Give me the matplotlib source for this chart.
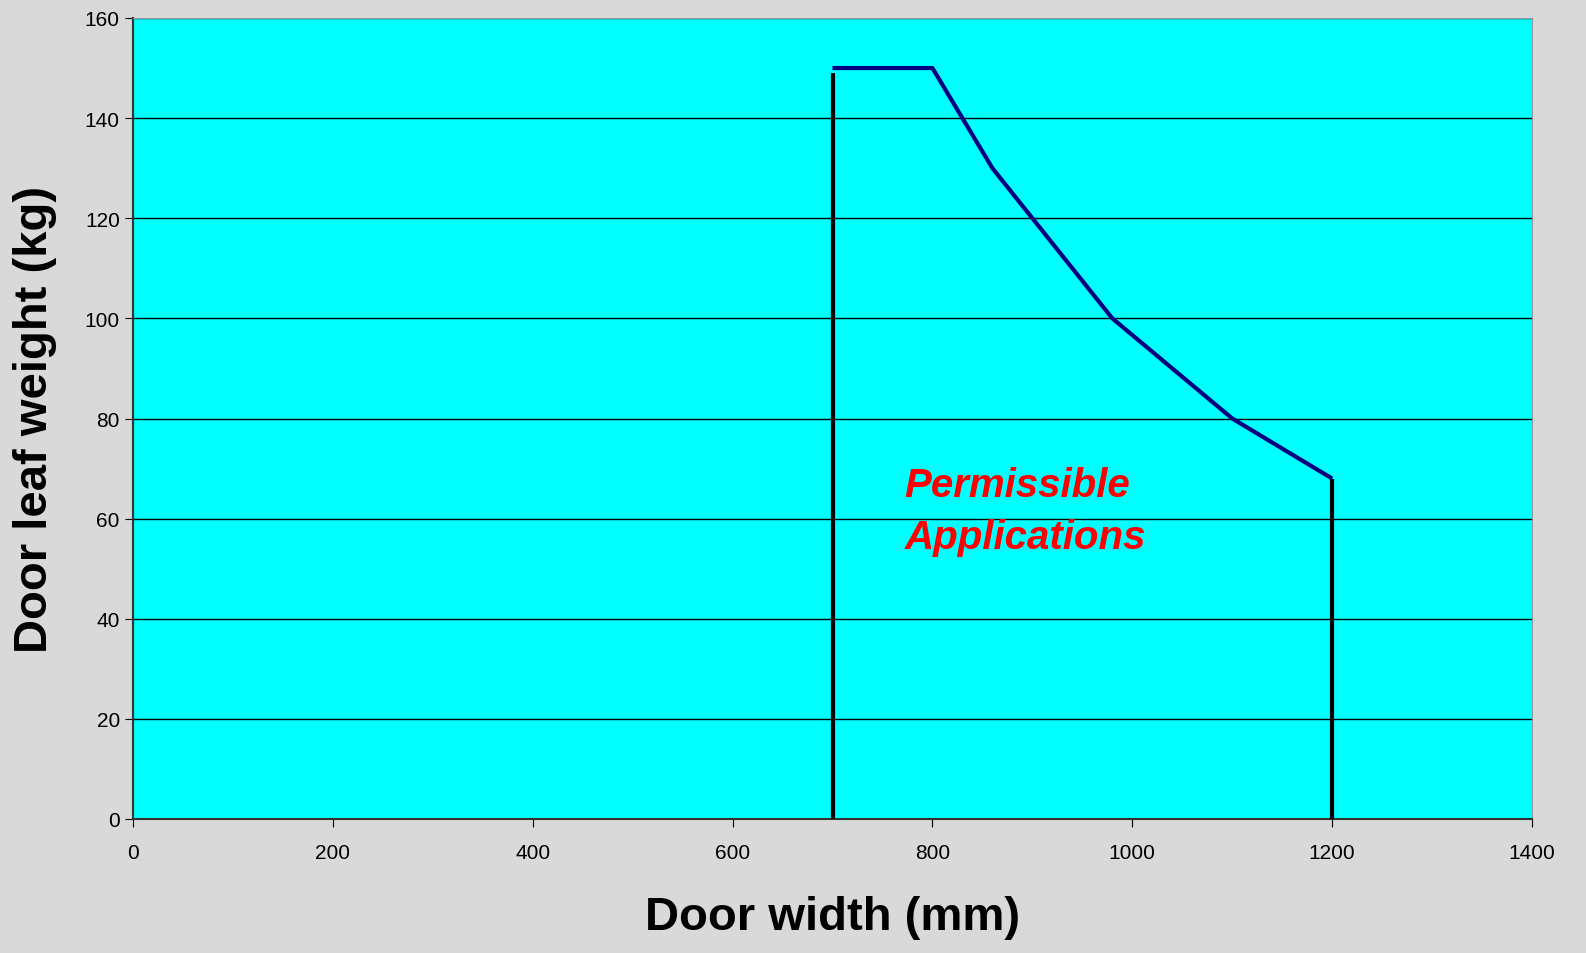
import matplotlib.pyplot as plt

plt.rcParams['font.family'] = ['Liberation Sans', 'DejaVu Sans']

# permissible limit curve
width = [700, 800, 860, 900, 940, 980, 1040, 1100, 1150, 1200]
weight = [150, 150, 130, 120, 110, 100, 90, 80, 74, 68]

# vertical boundary lines
left_x, left_top = 700, 149
right_x, right_top = 1200, 68

fig = plt.figure(figsize=(15.86, 9.54), dpi=100, facecolor='#d9d9d9')
ax = fig.add_axes([133/1586, 1 - 820/954, (1532-133)/1586, (820-19)/954])
ax.set_facecolor('#00ffff')

ax.plot(width, weight, color='#000080', lw=3, solid_capstyle='butt', zorder=3)
ax.vlines([left_x, right_x], 0, [left_top, right_top], color='black', lw=3, zorder=3)

ax.set_xlim(0, 1400)
ax.set_ylim(0, 160)
ax.set_xticks(range(0, 1401, 200))
ax.set_yticks(range(0, 161, 20))
ax.yaxis.grid(True, color='black', lw=1)
ax.set_axisbelow(True)
ax.tick_params(direction='out', length=6, labelsize=15, colors='black')
ax.tick_params(axis='x', pad=11)

for s in ['top', 'right']:
    ax.spines[s].set_color('#999999')
for s in ['left', 'bottom']:
    ax.spines[s].set_color('#333333')
    ax.spines[s].set_linewidth(1.5)

ax.text(772, 61.5, "Permissible\nApplications", color='red', fontsize=29,
        fontweight='bold', fontstyle='italic', va='center', ha='left',
        linespacing=1.48)

ax.set_xlabel("Door width (mm)", fontsize=34, fontweight='bold', labelpad=24)
ax.set_ylabel("Door leaf weight (kg)", fontsize=34, fontweight='bold', labelpad=20)

fig.savefig('out.png', dpi=100, facecolor=fig.get_facecolor())
